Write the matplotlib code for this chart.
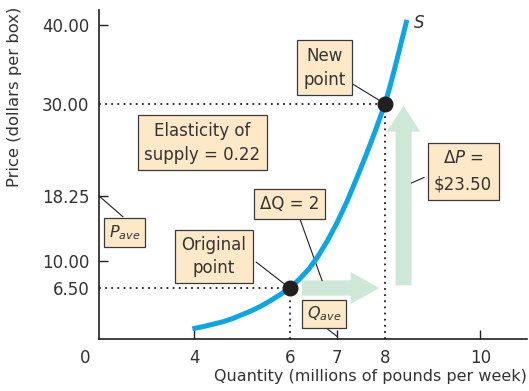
import matplotlib.pyplot as plt
from matplotlib.patches import FancyArrow

# supply curve
quantity = [3.96, 4.2, 4.4, 4.6, 4.8, 5.0, 5.2, 5.4, 5.6, 5.8, 6.0, 6.2, 6.4,
            6.6, 6.8, 7.0, 7.2, 7.4, 7.6, 7.8, 8.0, 8.1, 8.2, 8.3, 8.46]
price = [1.3, 1.6, 1.9, 2.2, 2.6, 3.1, 3.6, 4.2, 4.9, 5.65, 6.5, 7.6, 8.9,
         10.6, 12.6, 14.9, 17.5, 20.4, 23.4, 26.6, 30.0, 32.1, 34.4, 36.8, 40.7]

orig_pt = (6, 6.50)
new_pt = (8, 30.00)
q_ave = 7
p_ave = 18.25

xticks = [4, 6, 7, 8, 10]
yticks = [6.50, 10.00, 18.25, 30.00, 40.00]

ink = '#231f20'
txt = '#333333'
box_fc = '#fde9c8'
curve_c = '#0aa6e5'
arrow_c = '#cde8d7'

plt.rcParams['font.family'] = ['DejaVu Sans']
plt.rcParams['mathtext.fontset'] = 'dejavusans'

fig = plt.figure(figsize=(5.29, 3.91), dpi=100)
ax = fig.add_axes([99/529, 1-339/391, 428/529, 329/391])
ax.set_xlim(2, 10.98)
ax.set_ylim(0, 41.96)

for s in ['top', 'right']:
    ax.spines[s].set_visible(False)
for s in ['left', 'bottom']:
    ax.spines[s].set_color(ink)
    ax.spines[s].set_linewidth(1.2)

ax.set_xticks(xticks)
ax.set_xticklabels([str(t) for t in xticks])
ax.set_yticks(yticks)
ax.set_yticklabels(['%.2f' % t for t in yticks])
ax.tick_params(direction='in', length=6.5, width=1.0, color=ink,
               labelsize=12, labelcolor=txt, pad=7)
# dotted lines take the place of some tick marks
for t, v in zip(ax.xaxis.get_major_ticks(), xticks):
    if v in (orig_pt[0], new_pt[0]):
        t.tick1line.set_visible(False)
for t, v in zip(ax.yaxis.get_major_ticks(), yticks):
    if v in (orig_pt[1], new_pt[1]):
        t.tick1line.set_visible(False)

ax.annotate('0', xy=(0, 0), xycoords='axes fraction', xytext=(-10, -13.5),
            textcoords='offset points', ha='center', va='center',
            fontsize=12, color=txt)

# green arrows
ax.add_patch(FancyArrow(orig_pt[0] + 0.26, orig_pt[1], 1.62, 0, width=1.95,
                        head_width=4.1, head_length=0.6, length_includes_head=True,
                        color=arrow_c, lw=0, zorder=1))
ax.add_patch(FancyArrow(8.39, 6.85, 0, 22.9, width=0.335,
                        head_width=0.7, head_length=3.3, length_includes_head=True,
                        color=arrow_c, lw=0, zorder=1))

# dotted guide lines
dots = dict(color=ink, lw=1.3, ls=(0, (1, 2.4)), zorder=2)
for x, y in (orig_pt, new_pt):
    ax.plot([2, x], [y, y], **dots)
    ax.plot([x, x], [0, y], **dots)

ax.plot(quantity, price, color=curve_c, lw=3.6, solid_capstyle='butt',
        solid_joinstyle='round', zorder=3)
ax.plot(*zip(orig_pt, new_pt), 'o', color=ink, ms=10.5, zorder=4)
ax.text(8.72, 40.3, 'S', style='italic', fontsize=12, color=txt,
        ha='center', va='center')

lead = dict(color=ink, lw=0.8, zorder=2)

def label(x, y, s, ls=1.45, size=12, pad=0.38):
    ax.text(x, y, s, ha='center', va='center', fontsize=size, color=txt,
            linespacing=ls,
            bbox=dict(boxstyle='square,pad=%g' % pad, fc=box_fc,
                      ec='#3a3a3a', lw=0.9),
            zorder=5)

label(6.74, 34.6, 'New\npoint')
ax.plot([7.3, 8.0], [32.6, 30.0], **lead)

label(4.17, 25.0, 'Elasticity of\nsupply = 0.22')

label(2.53, 13.6, r'$P_{ave}$', size=11.5, pad=0.3)
ax.plot([2.0, 2.5], [p_ave, 15.6], **lead)

label(6.0, 17.2, '\u0394Q = 2', pad=0.35)
ax.plot([6.21, 6.68], [15.4, 7.45], **lead)

label(4.41, 10.5, 'Original\npoint', ls=1.35)
ax.plot([5.3, 6.0], [9.8, 6.5], **lead)

label(9.64, 21.4, '$\\Delta P$ =\n$23.50', ls=1.6)
ax.plot([8.82, 8.556], [20.6, 19.9], **lead)

label(6.72, 3.2, r'$Q_{ave}$', size=11.5, pad=0.3)
ax.plot([6.79, q_ave], [1.3, 0.3], **lead)

ax.set_xlabel('Quantity (millions of pounds per week)', loc='right',
              fontsize=11.5, color=txt, labelpad=2)
fig.text(15/529, 1-97/391, 'Price (dollars per box)', rotation=90,
         ha='center', va='center', fontsize=11.8, color=txt)

fig.savefig('out.png', dpi=100)
